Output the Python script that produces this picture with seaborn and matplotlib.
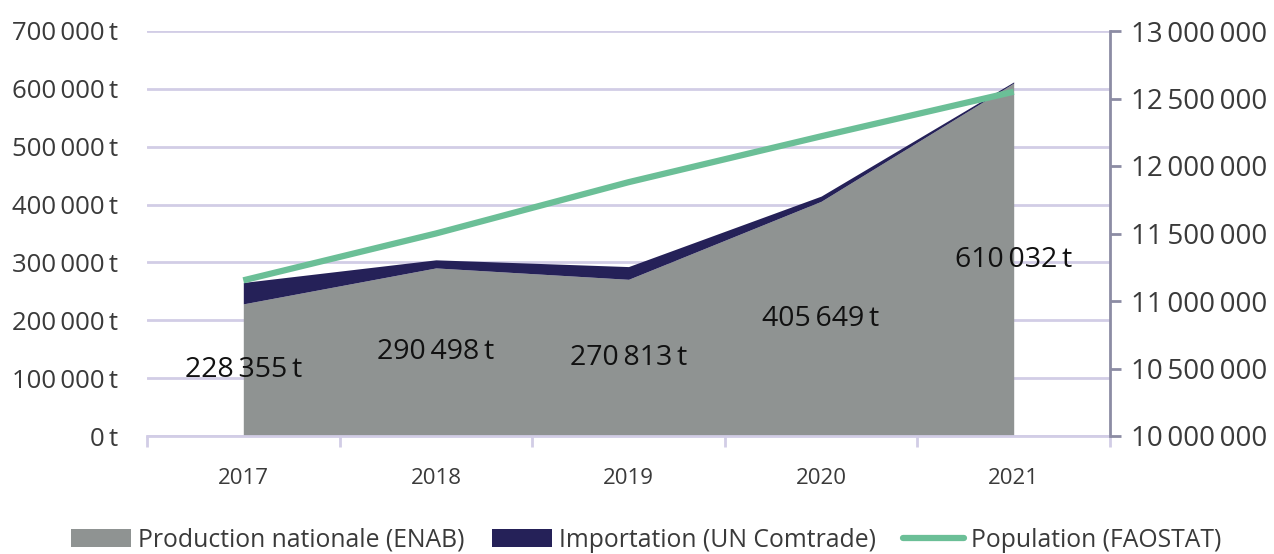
import numpy as np
import pandas as pd
import seaborn as sns
import matplotlib.pyplot as plt
from matplotlib.patches import Patch
from matplotlib.lines import Line2D
from matplotlib.ticker import FuncFormatter, MultipleLocator, FixedLocator

# data
years = ["2017", "2018", "2019", "2020", "2021"]
production = [228355, 290498, 270813, 405649, 610032]
importation = [37000, 14000, 22000, 9000, 2000]
population = [11153000, 11500000, 11880000, 12220000, 12550000]

GREY = "#8f9392"
NAVY = "#252158"
GREEN = "#6bbf97"
GRID = "#d2cde6"
SPINE = "#8c8ca4"
TEXT = "#3a3a3a"

sns.set_theme(style="white")
plt.rcParams["font.family"] = ["Open Sans", "DejaVu Sans"]


def fmt(v):
    return f"{v:,.0f}".replace(",", "\u2009")


df = pd.DataFrame({"year": years, "prod": production, "imp": importation, "pop": population})
df["x"] = np.arange(len(df))
df["top"] = df["prod"] + df["imp"]

fig = plt.figure(figsize=(12.74, 5.54), dpi=100)
ax = fig.add_axes([147 / 1274, 1 - 436 / 554, (1110 - 147) / 1274, (436 - 31) / 554])

# stacked areas
ax.fill_between(df["x"], 0, df["prod"], color=GREY, lw=0, zorder=2)
ax.fill_between(df["x"], df["prod"], df["top"], color=NAVY, lw=0, zorder=2)

ax.set_xlim(-0.5, 4.5)
ax.set_ylim(0, 700000)
ax.yaxis.set_major_locator(MultipleLocator(100000))
ax.yaxis.set_major_formatter(FuncFormatter(lambda v, p: fmt(v) + "\u2009t"))
ax.grid(axis="y", color=GRID, lw=2)
ax.grid(axis="x", visible=False)
ax.set_axisbelow(True)

for s in ["top", "left", "right"]:
    ax.spines[s].set_visible(False)
ax.spines["bottom"].set_color(GRID)
ax.spines["bottom"].set_linewidth(2)

# category boundary ticks, labels at centers
ax.xaxis.set_major_locator(FixedLocator(np.arange(-0.5, 5, 1)))
ax.xaxis.set_major_formatter(FuncFormatter(lambda v, p: ""))
ax.xaxis.set_minor_locator(FixedLocator(df["x"]))
ax.set_xticklabels(years, minor=True)
ax.tick_params(axis="x", which="major", direction="out", length=8, width=2, color=GRID, bottom=True)
ax.tick_params(axis="x", which="minor", length=0, pad=23, labelsize=16, labelcolor=TEXT)
ax.tick_params(axis="y", length=0, pad=21, labelsize=18.5, labelcolor=TEXT)

# data labels at half of production
for _, r in df.iterrows():
    ax.text(r["x"], r["prod"] / 2, fmt(r["prod"]) + "\u2009t", ha="center", va="center",
            fontsize=20.5, color="#111111", zorder=5)

# population on right axis
ax2 = ax.twinx()
sns.lineplot(data=df, x="x", y="pop", ax=ax2, color=GREEN, lw=4.5, solid_capstyle="butt")
ax2.set_ylim(10000000, 13000000)
ax2.set_xlim(-0.5, 4.5)
ax2.yaxis.set_major_locator(MultipleLocator(500000))
ax2.yaxis.set_major_formatter(FuncFormatter(lambda v, p: fmt(v)))
ax2.set_ylabel("")
ax2.set_xlabel("")
ax2.grid(False)
for s in ["top", "left", "bottom"]:
    ax2.spines[s].set_visible(False)
ax2.spines["right"].set_color(SPINE)
ax2.spines["right"].set_linewidth(2)
ax2.tick_params(axis="y", direction="out", length=8, width=2, color=SPINE, pad=7,
                labelsize=20, labelcolor=TEXT, right=True)
ax.set_xlabel("")
ax.set_ylabel("")

handles = [
    Patch(facecolor=GREY, edgecolor="none"),
    Patch(facecolor=NAVY, edgecolor="none"),
    Line2D([0], [0], color=GREEN, lw=4.5),
]
labels = ["Production nationale (ENAB)", "Importation (UN Comtrade)", "Population (FAOSTAT)"]
fig.legend(handles, labels, loc="center", bbox_to_anchor=(0.507, 0.025), ncol=3, frameon=False,
           fontsize=17.8, handlelength=2.45, handleheight=0.7, handletextpad=0.28, columnspacing=1.1,
           labelcolor=TEXT)

fig.savefig("out.png", dpi=100)
